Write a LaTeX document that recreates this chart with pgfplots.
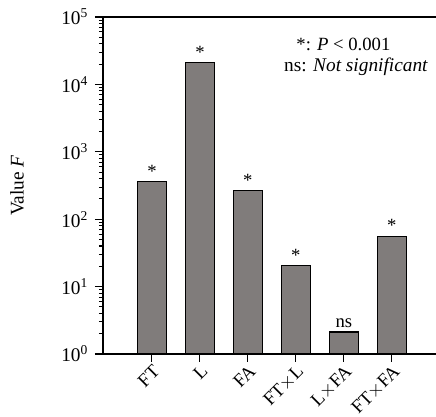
\documentclass[border=0pt]{standalone}
\usepackage{pgfplots}
\pgfplotsset{compat=1.18}
\usepackage{fontspec}
\setmainfont{Liberation Serif}
\definecolor{bargray}{RGB}{128,124,123}

\begin{document}
\begin{tikzpicture}[x=1pt,y=1pt]
\begin{axis}[
  at={(0,0)}, anchor=south west,
  scale only axis,
  width=249.75pt, height=252.75pt,
  ymode=log,
  ymin=1, ymax=100000,
  xmin=-1.02, xmax=5.92,
  axis x line*=box,
  axis y line*=left,
  xtick pos=bottom,
  axis line style={line width=0.9pt},
  every tick/.style={black, line width=0.8pt},
  tick align=outside,
  major tick length=6pt,
  minor tick length=3pt,
  xtick={0,1,2,3,4,5},
  xticklabels={FT, L, FA, FT$\times$L, L$\times$FA, FT$\times$FA},
  x tick label style={rotate=45, anchor=north east, font=\fontsize{14}{16}\selectfont, inner sep=1pt},
  ytick={1,10,100,1000,10000,100000},
  yticklabels={10\textsuperscript{0},10\textsuperscript{1},10\textsuperscript{2},10\textsuperscript{3},10\textsuperscript{4},10\textsuperscript{5}},
  y tick label style={font=\fontsize{14.5}{16}\selectfont, inner sep=2pt, xshift=-3pt},
  ylabel={Value \textit{F}},
  ylabel style={at={(axis description cs:-0.258,0.5)}, anchor=center, font=\fontsize{14.5}{16}\selectfont},
  ybar, bar width=21.75pt,
  log origin=infty,
  nodes near coords,
  point meta=explicit symbolic,
  every node near coord/.append style={font=\fontsize{14}{16}\selectfont, anchor=south, inner sep=3pt},
  clip=false,
]
\addplot[fill=bargray, draw=black, line width=0.8pt] table[meta=sig] {
x  y      sig
0  357    *
1  21000  *
2  265    *
3  20.4   *
4  2.12   ns
5  55.7   *
};
\node[anchor=base, font=\fontsize{14}{16}\selectfont] at (rel axis cs:0.722,0.902) {*: \textit{P} < 0.001};
\node[anchor=base, font=\fontsize{14.5}{16}\selectfont] at (rel axis cs:0.760,0.837) {ns: \textit{Not significant}};
\end{axis}
\pgfresetboundingbox
\path (-77.25pt,-47.25pt) rectangle (249.75pt,265.5pt);
\end{tikzpicture}
\end{document}
